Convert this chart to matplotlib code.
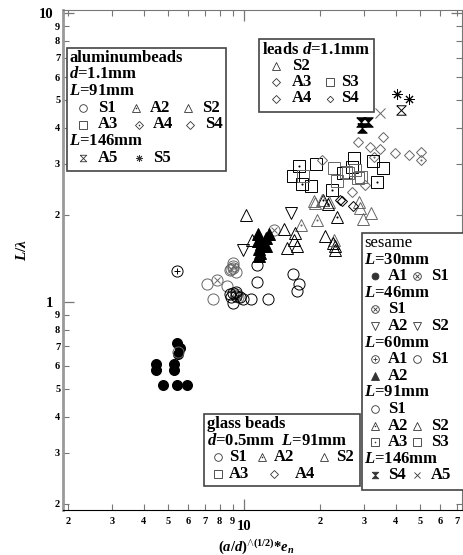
import matplotlib
matplotlib.use("Agg")
import matplotlib.pyplot as plt
from matplotlib.patches import Rectangle
import numpy as np

plt.rcParams['font.family'] = ['Liberation Serif', 'DejaVu Serif']
plt.rcParams['font.weight'] = 'bold'
plt.rcParams['mathtext.fontset'] = 'custom'
plt.rcParams['mathtext.rm'] = 'Liberation Serif:bold'
plt.rcParams['mathtext.it'] = 'Liberation Serif:italic:bold'
plt.rcParams['mathtext.bf'] = 'Liberation Serif:bold'

# ---- data: x = (a/d)^(1/2)*e_n , y = L/lambda ----
# sesame
ses30_A1_x = [4.48, 4.48, 5.28, 5.28, 4.76, 5.41, 5.96, 5.41, 5.58, 5.48]
ses30_A1_y = [0.61, 0.58, 0.61, 0.58, 0.515, 0.515, 0.515, 0.72, 0.69, 0.66]
ses30_S1_x = [7.84, 9.05, 9.25]
ses30_S1_y = [1.19, 1.33, 1.06]
ses46_S1_x = [8.9, 9.5, 13.2]
ses46_S1_y = [1.30, 1.04, 1.77]
ses46_A2_x = [9.94]
ses46_A2_y = [1.51]
ses46_S2_x = [15.35]
ses46_S2_y = [2.03]
ses60_A1_x = [5.41]
ses60_A1_y = [1.28]
ses60_S1_x = [5.45, 7.12]
ses60_S1_y = [0.67, 1.15]
ses60_A2_x = [11.4, 11.4, 11.5, 11.5, 11.7, 12.2, 12.5, 12.2, 11.6]
ses60_A2_y = [1.72, 1.62, 1.52, 1.44, 1.58, 1.56, 1.72, 1.66, 1.48]
ses91_S1_x = [10.63, 11.23, 11.23, 12.48, 15.6, 16.26, 16.56]
ses91_S1_y = [1.02, 1.34, 1.17, 1.02, 1.25, 1.09, 1.15]
ses91_A2_x = [20.6, 23.3, 22.9]
ses91_A2_y = [2.25, 1.96, 1.56]
ses91_S2_x = [10.16, 10.73, 14.8, 16.2]
ses91_S2_y = [2.0, 1.64, 1.53, 1.56]
ses91_A3_x = [16.5, 17.0, 22.3, 33.8]
ses91_A3_y = [2.94, 2.56, 2.44, 2.59]
ses91_S3_x = [15.7, 18.4, 26.9]
ses91_S3_y = [2.73, 2.52, 2.92]
ses146_S4_x = [29.1, 31.0, 29.5]
ses146_S4_y = [4.2, 4.2, 4.0]
ses146_A5_x = [34.5]
ses146_A5_y = [4.5]

# aluminum beads d=1.1mm
al91_S1_x = [8.80, 9.05, 9.30, 9.05, 8.54, 7.50]
al91_S1_y = [1.29, 1.31, 1.27, 1.36, 1.13, 1.02]
al91_A2_x = [16.9, 19.4, 22.7]
al91_A2_y = [1.85, 1.92, 1.64]
al91_S2_x = [14.4, 15.9, 15.8, 21.0, 22.9]
al91_S2_y = [1.78, 1.73, 1.63, 1.69, 1.51]
al91_A3_x = [17.1, 22.7, 25.5, 28.4]
al91_A3_y = [2.73, 2.90, 2.82, 2.68]
al91_A4_x = [32.9, 50.4]
al91_A4_y = [3.18, 3.10]
al91_S4_x = [26.9, 30.3]
al91_S4_y = [2.40, 2.54]
al146_A5_x = [42.1]
al146_A5_y = [4.62]
al146_S5_x = [40.4, 45.1]
al146_S5_y = [5.23, 5.04]

# leads d=1.1mm
ld_S2_x = [18.9, 20.3, 21.8, 19.1, 28.6, 28.8, 31.9, 29.7]
ld_S2_y = [2.24, 2.25, 2.21, 2.19, 2.22, 2.11, 2.03, 1.93]
ld_A3_x = [28.4, 31.6, 34.5]
ld_A3_y = [3.56, 3.43, 3.38]
ld_S3_x = [19.3, 24.7, 27.3, 32.5, 35.6]
ld_S3_y = [3.00, 2.79, 3.14, 3.07, 2.90]
ld_A4_x = [35.6, 39.6, 45.1]
ld_A4_y = [3.71, 3.27, 3.21]
ld_S4_x = [20.3, 50.4]
ld_S4_y = [3.10, 3.31]

# glass beads d=0.5mm L=91mm
gl_S1_x = [8.8, 9.05, 9.3, 9.64, 9.91, 9.05, 8.9, 9.3]
gl_S1_y = [1.06, 1.07, 1.05, 1.04, 1.02, 0.99, 1.04, 1.08]
gl_A2_x = [21.5]
gl_A2_y = [2.18]
gl_S2_x = [22.5]
gl_S2_y = [1.60]
gl_A3_x = [23.3, 25.9, 27.5, 29.2]
gl_A3_y = [2.61, 2.79, 2.86, 2.71]
gl_A4_x = [24.4, 27.1, 24.1]
gl_A4_y = [2.24, 2.14, 2.25]

xminor = [2, 3, 4, 5, 6, 7, 8, 9, 20, 30, 40, 50, 60, 70]
yminor = [0.2, 0.3, 0.4, 0.5, 0.6, 0.7, 0.8, 0.9, 2, 3, 4, 5, 6, 7, 8, 9]

HOURGLASS = [(-1, 1), (1, 1), (-1, -1), (1, -1), (-1, 1)]


def marks(ax, x, y, style, ms, ec='k', mew=0.7):
    b = dict(ls='none', mec=ec, mew=mew)
    if style in ('o', 'ox', 'o+'):
        ax.plot(x, y, marker='o', ms=ms, mfc='none', **b)
        if style == 'ox':
            ax.plot(x, y, marker='x', ms=ms * 0.5, **b)
        if style == 'o+':
            ax.plot(x, y, marker='+', ms=ms * 0.6, **b)
    elif style == 'fo':
        ax.plot(x, y, marker='o', ms=ms * 0.9, mfc=ec, **b)
    elif style in ('^', '^.'):
        ax.plot(x, y, marker='^', ms=ms, mfc='none', **b)
        if style == '^.':
            ax.plot(x, y, marker='.', ms=ms * 0.2, **b)
    elif style == 'v':
        ax.plot(x, y, marker='v', ms=ms, mfc='none', **b)
    elif style == 'f^':
        ax.plot(x, y, marker='^', ms=ms, mfc=ec, **b)
    elif style in ('s', 's.'):
        ax.plot(x, y, marker='s', ms=ms, mfc='none', **b)
        if style == 's.':
            ax.plot(x, y, marker='.', ms=ms * 0.2, **b)
    elif style in ('D', 'D.', 'd'):
        f = 0.6 if style == 'd' else 0.7
        ax.plot(x, y, marker='D', ms=ms * f, mfc='none', **b)
        if style == 'D.':
            ax.plot(x, y, marker='.', ms=ms * 0.2, **b)
    elif style == 'hg':
        ax.plot(x, y, marker=HOURGLASS, ms=ms * 0.85, mfc='none', **b)
    elif style == 'fhg':
        ax.plot(x, y, marker=HOURGLASS, ms=ms * 0.85, mfc=ec, **b)
    elif style == '*':
        ax.plot(x, y, marker=(8, 2, 0), ms=ms * 0.9, **b)
    elif style == 'x':
        ax.plot(x, y, marker='x', ms=ms * 0.9, **b)


fig = plt.figure(figsize=(4.63, 5.55), dpi=100)
ax = fig.add_axes([63 / 463, 45 / 555, 399 / 463, 500 / 555])
ax.set_xscale('log')
ax.set_yscale('log')
ax.set_xlim(1.91, 73.3)
ax.set_ylim(0.19, 10.24)

MS = 8
grey = '#666666'
series = [
    ('fo', ses30_A1_x, ses30_A1_y, 'k'),
    ('ox', ses30_S1_x, ses30_S1_y, grey),
    ('ox', ses46_S1_x, ses46_S1_y, grey),
    ('v', ses46_A2_x, ses46_A2_y, 'k'),
    ('v', ses46_S2_x, ses46_S2_y, 'k'),
    ('o+', ses60_A1_x, ses60_A1_y, 'k'),
    ('o', ses60_S1_x, ses60_S1_y, grey),
    ('f^', ses60_A2_x, ses60_A2_y, 'k'),
    ('o', ses91_S1_x, ses91_S1_y, 'k'),
    ('^.', ses91_A2_x, ses91_A2_y, 'k'),
    ('^', ses91_S2_x, ses91_S2_y, 'k'),
    ('s.', ses91_A3_x, ses91_A3_y, 'k'),
    ('s', ses91_S3_x, ses91_S3_y, 'k'),
    ('fhg', ses146_S4_x, ses146_S4_y, 'k'),
    ('x', ses146_A5_x, ses146_A5_y, grey),
    ('o', al91_S1_x, al91_S1_y, grey),
    ('^.', al91_A2_x, al91_A2_y, grey),
    ('^', al91_S2_x, al91_S2_y, 'k'),
    ('s', al91_A3_x, al91_A3_y, grey),
    ('D.', al91_A4_x, al91_A4_y, grey),
    ('D', al91_S4_x, al91_S4_y, grey),
    ('hg', al146_A5_x, al146_A5_y, 'k'),
    ('*', al146_S5_x, al146_S5_y, 'k'),
    ('^', ld_S2_x, ld_S2_y, grey),
    ('D', ld_A3_x, ld_A3_y, grey),
    ('s', ld_S3_x, ld_S3_y, 'k'),
    ('D', ld_A4_x, ld_A4_y, grey),
    ('d', ld_S4_x, ld_S4_y, grey),
    ('o', gl_S1_x, gl_S1_y, 'k'),
    ('^.', gl_A2_x, gl_A2_y, 'k'),
    ('^', gl_S2_x, gl_S2_y, 'k'),
    ('s', gl_A3_x, gl_A3_y, grey),
    ('D', gl_A4_x, gl_A4_y, 'k'),
]
for st, xs, ys, ec in series:
    marks(ax, xs, ys, st, MS, ec=ec)


def lead(v):
    return str(int(round(v / 10 ** np.floor(np.log10(v)))))


ax.set_xticks([10], ['10'])
ax.set_xticks(xminor, [lead(v) for v in xminor], minor=True)
ax.set_yticks([1, 10], ['1', '10'])
ax.set_yticks(yminor, [lead(v) for v in yminor], minor=True)
ax.tick_params(which='both', direction='in', top=True, right=True, color='#777777')
ax.tick_params(which='minor', length=4, labelsize=7.5, width=0.8)
ax.tick_params(which='major', length=8, labelsize=10.5, width=0.9)
ax.tick_params(axis='x', which='minor', pad=5)
ax.tick_params(axis='x', which='major', pad=7)
ax.tick_params(axis='y', which='minor', pad=2)
ax.tick_params(axis='y', which='major', pad=7)
ax.spines['left'].set_color('#999999')
ax.spines['left'].set_linewidth(2)
ax.spines['bottom'].set_color('black')
for s in ('top', 'right'):
    ax.spines[s].set_color('#777777')
    ax.spines[s].set_linewidth(0.8)

fig.text(22 / 463, 1 - 250 / 555, r'$L/\lambda$', rotation=90,
         ha='center', va='center', fontsize=11)
fig.text(256 / 463, 1 - 547 / 555, r'$(a/d)^{\wedge(1/2)}$*$e_n$',
         ha='center', va='center', fontsize=10.5)

# ---- legend boxes, drawn on a pixel overlay ----
ov = fig.add_axes([0, 0, 1, 1])
ov.set_xlim(0, 463)
ov.set_ylim(555, 0)
ov.axis('off')


def box(x0, y0, x1, y1):
    ov.add_patch(Rectangle((x0, y0), x1 - x0, y1 - y0, fc='white', ec='#444444', lw=1.2))


def txt(x, y, s, **kw):
    ov.text(x, y, s, fontsize=12, ha='left', va='center', **kw)


def key(mx, y, style, label, tx):
    marks(ov, [mx], [y], style, 5.5, ec='#333333', mew=0.6)
    txt(tx, y, label)


# aluminum beads
box(66.7, 47.7, 225.7, 170.7)
txt(69, 57.7, 'aluminumbeads')
txt(69, 74.4, '$d$=1.1mm')
txt(69, 91.1, '$L$=91mm')
key(83, 107.8, 'o', 'S1', 98)
key(136, 107.8, '^.', 'A2', 150)
key(188, 107.8, '^', 'S2', 202)
key(83, 124.5, 's', 'A3', 98)
key(139, 124.5, 'D.', 'A4', 153)
key(190, 124.5, 'D', 'S4', 205)
txt(69, 141.2, '$L$=146mm')
key(83, 157.9, 'hg', 'A5', 98)
key(139, 157.9, '*', 'S5', 153)

# leads
box(259.3, 39.3, 374, 112.3)
txt(262, 50, 'leads $d$=1.1mm')
key(276, 66, '^', 'S2', 292)
key(276, 82.3, 'D', 'A3', 292)
key(330, 82.3, 's', 'S3', 341)
key(276, 98.5, 'D', 'A4', 292)
key(330, 98.5, 'd', 'S4', 341)

# sesame
box(361.7, 233, 490, 490)
sy = [243 + 16.6 * i for i in range(15)]
txt(364, sy[0], 'sesame', fontweight='normal')
txt(364, sy[1], '$L$=30mm')
key(375, sy[2], 'fo', 'A1', 388)
key(417, sy[2], 'ox', 'S1', 431)
txt(364, sy[3], '$L$=46mm')
key(375, sy[4], 'ox', 'S1', 388)
key(375, sy[5], 'v', 'A2', 388)
key(417, sy[5], 'v', 'S2', 431)
txt(364, sy[6], '$L$=60mm')
key(375, sy[7], 'o+', 'A1', 388)
key(417, sy[7], 'o', 'S1', 431)
key(375, sy[8], 'f^', 'A2', 388)
txt(364, sy[9], '$L$=91mm')
key(375, sy[10], 'o', 'S1', 388)
key(375, sy[11], '^.', 'A2', 388)
key(417, sy[11], '^', 'S2', 431)
key(375, sy[12], 's.', 'A3', 388)
key(417, sy[12], 's', 'S3', 431)
txt(364, sy[13], '$L$=146mm')
key(375, sy[14], 'fhg', 'S4', 388)
key(417, sy[14], 'x', 'A5', 431)

# glass beads
box(204.3, 414, 360, 486)
txt(207, 424, 'glass beads')
txt(207, 440.7, '$d$=0.5mm  $L$=91mm')
key(218, 457.4, 'o', 'S1', 229)
key(262, 457.4, '^.', 'A2', 274)
key(324, 457.4, '^', 'S2', 336)
key(218, 474.1, 's', 'A3', 229)
key(274, 474.1, 'D', 'A4', 295)

fig.savefig('out.png', dpi=100)
